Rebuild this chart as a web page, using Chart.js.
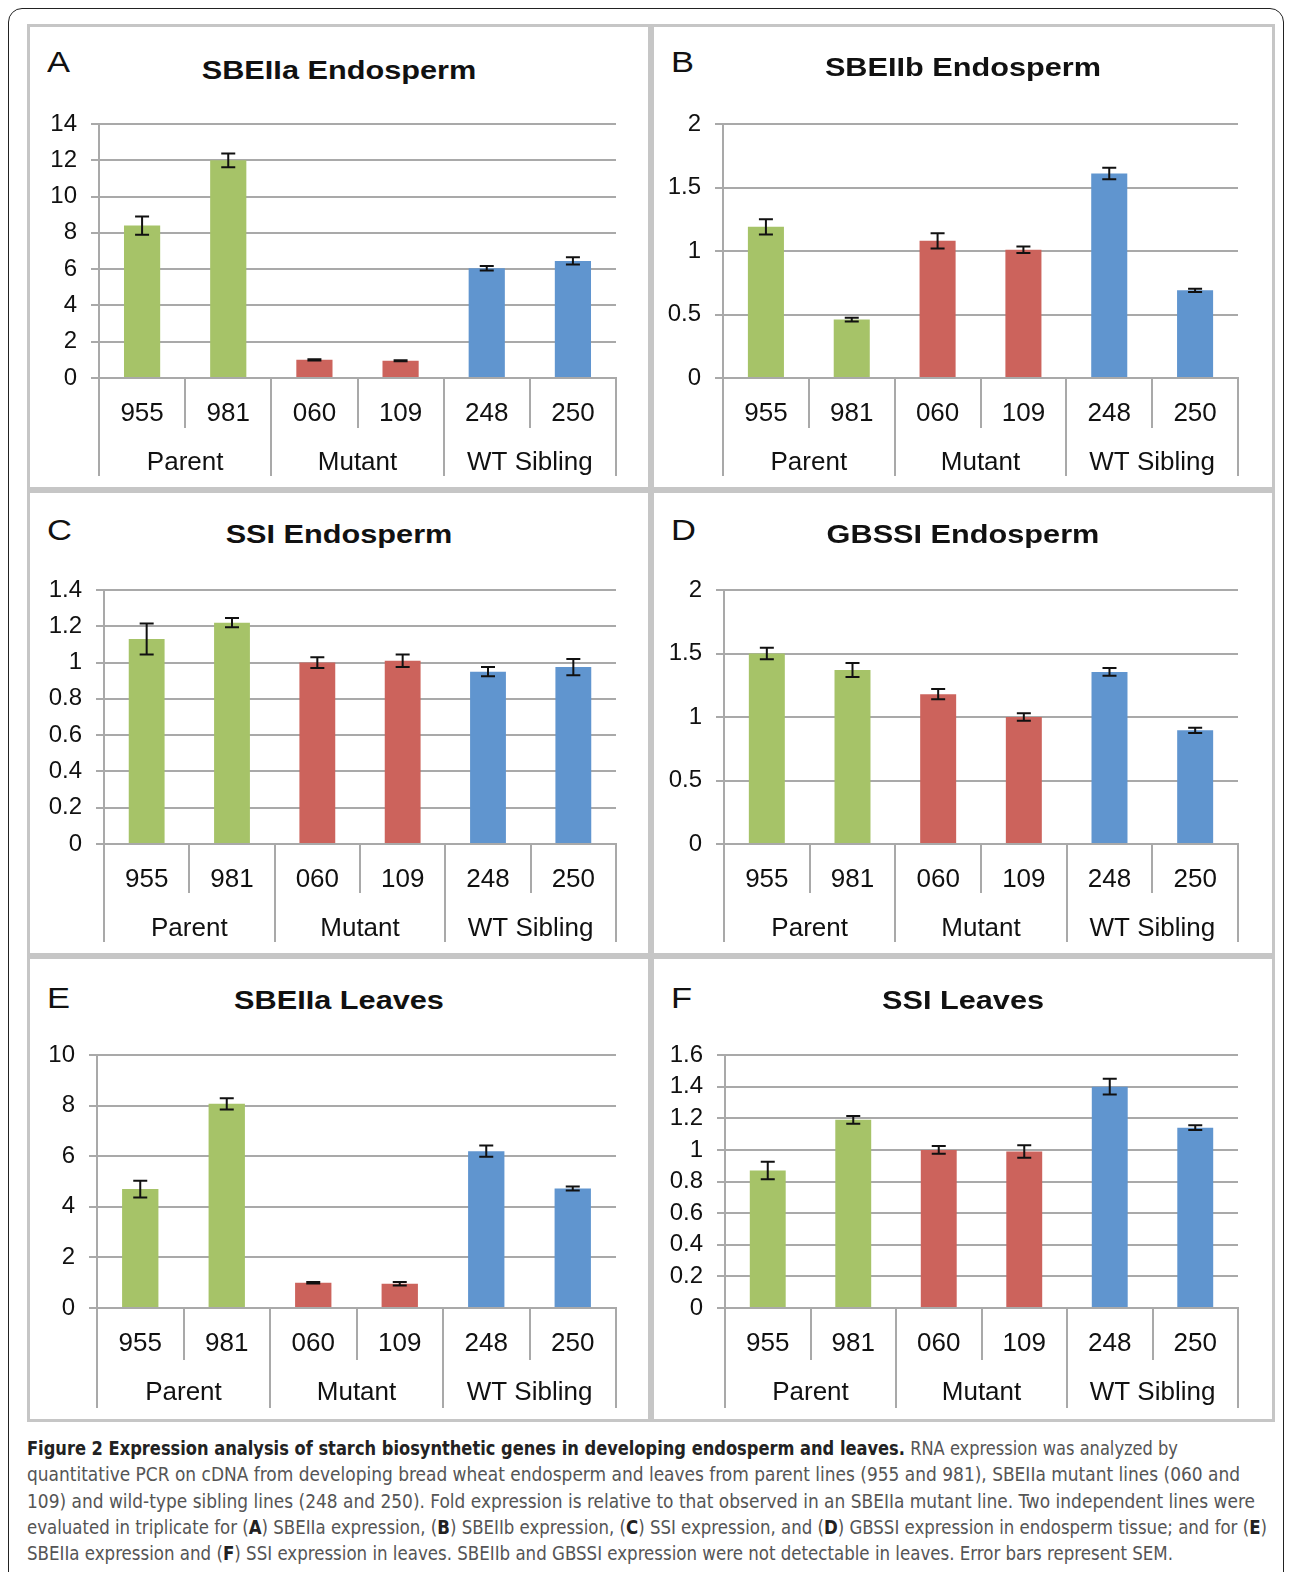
<!DOCTYPE html>
<html>
<head>
<meta charset="utf-8">
<script src="https://cdn.jsdelivr.net/npm/chart.js@4.4.1/dist/chart.umd.min.js"></script>
<style>
  body { margin: 0; background: #fff; width: 1290px; height: 1572px; overflow: hidden; position: relative;
         font-family: "Liberation Sans", Arial, sans-serif; }
  #frame { position: absolute; left: 8px; top: 8px; width: 1276px; height: 1640px;
           border: 1.5px solid #222; border-radius: 14px; box-sizing: border-box; }
  .panel { position: absolute; width: 624px; height: 466px; border: 3px solid #c6c6c6;
           box-sizing: border-box; background: #fff; }
  .panel canvas { position: absolute; left: 0; top: 0; }
  .letter { position: absolute; font-size: 30px; line-height: 34px; color: #111;
            transform: scaleX(1.15); transform-origin: left center; }
  .title { position: absolute; left: 0; right: 0; text-align: center; font-weight: bold;
           font-size: 26px; line-height: 30px; color: #111; transform: scaleX(1.18); }
  #caption { position: absolute; left: 27px; top: 1436px; }
  .cl { white-space: nowrap; height: 26.3px; line-height: 26.3px; font-size: 19.5px; color: #555;
        font-family: "Liberation Sans Narrow", "DejaVu Sans Condensed", "Liberation Sans", sans-serif;
        transform-origin: left center; }
  .cl b { color: #222; }
</style>
</head>
<body>
<div id="frame"></div>
<div class="panel" id="pA"></div>
<div class="panel" id="pB"></div>
<div class="panel" id="pC"></div>
<div class="panel" id="pD"></div>
<div class="panel" id="pE"></div>
<div class="panel" id="pF"></div>

<div id="caption">
  <div class="cl" data-w="1151"><b>Figure 2 Expression analysis of starch biosynthetic genes in developing endosperm and leaves.</b> RNA expression was analyzed by</div>
  <div class="cl" data-w="1213">quantitative PCR on cDNA from developing bread wheat endosperm and leaves from parent lines (955 and 981), SBEIIa mutant lines (060 and</div>
  <div class="cl" data-w="1228">109) and wild-type sibling lines (248 and 250). Fold expression is relative to that observed in an SBEIIa mutant line. Two independent lines were</div>
  <div class="cl" data-w="1240">evaluated in triplicate for (<b>A</b>) SBEIIa expression, (<b>B</b>) SBEIIb expression, (<b>C</b>) SSI expression, and (<b>D</b>) GBSSI expression in endosperm tissue; and for (<b>E</b>)</div>
  <div class="cl" data-w="1146">SBEIIa expression and (<b>F</b>) SSI expression in leaves. SBEIIb and GBSSI expression were not detectable in leaves. Error bars represent SEM.</div>
</div>

<script>
// categories
const samples = ["955", "981", "060", "109", "248", "250"];
const groups = ["Parent", "Mutant", "WT Sibling"];

// A - SBEIIa endosperm
const sbe2aEndoMean = [8.4, 12.0, 1.0, 0.95, 6.05, 6.45];
const sbe2aEndoErr  = [0.5, 0.38, 0.04, 0.03, 0.12, 0.2];
// B - SBEIIb endosperm
const sbe2bEndoMean = [1.19, 0.46, 1.08, 1.01, 1.61, 0.69];
const sbe2bEndoErr  = [0.06, 0.015, 0.06, 0.025, 0.045, 0.012];
// C - SSI endosperm
const ssiEndoMean = [1.13, 1.22, 1.0, 1.01, 0.95, 0.975];
const ssiEndoErr  = [0.085, 0.025, 0.03, 0.035, 0.025, 0.045];
// D - GBSSI endosperm
const gbssiEndoMean = [1.5, 1.37, 1.18, 1.0, 1.355, 0.895];
const gbssiEndoErr  = [0.045, 0.055, 0.04, 0.03, 0.03, 0.02];
// E - SBEIIa leaves
const sbe2aLeafMean = [4.7, 8.07, 1.0, 0.96, 6.2, 4.72];
const sbe2aLeafErr  = [0.33, 0.22, 0.03, 0.07, 0.22, 0.08];
// F - SSI leaves
const ssiLeafMean = [0.87, 1.19, 1.0, 0.99, 1.4, 1.14];
const ssiLeafErr  = [0.055, 0.025, 0.025, 0.04, 0.05, 0.015];

// y axis ranges
const yMax  = [14, 2, 1.4, 2, 10, 1.6];
const yStep = [2, 0.5, 0.2, 0.5, 2, 0.2];

const titles = ["SBEIIa Endosperm", "SBEIIb Endosperm", "SSI Endosperm",
                "GBSSI Endosperm", "SBEIIa Leaves", "SSI Leaves"];
const letters = ["A", "B", "C", "D", "E", "F"];

const barColors = ["#a6c368", "#a6c368", "#cc635c", "#cc635c", "#6095cf", "#6095cf"];
const GRAY = "#a9a9a9";
const FONT = "'Liberation Sans', Arial, sans-serif";

// panel layout (page pixels)
const panels = [
  { id: "pA", px: 27,  py: 24,  left: 99,  right: 616,  top: 124,  bottom: 378,  row1: 50, row2: 48, ly: 38, ty: 46, mean: sbe2aEndoMean, err: sbe2aEndoErr },
  { id: "pB", px: 651, py: 24,  left: 723, right: 1238, top: 124,  bottom: 378,  row1: 50, row2: 48, ly: 38, ty: 43, mean: sbe2bEndoMean, err: sbe2bEndoErr },
  { id: "pC", px: 27,  py: 490, left: 104, right: 616,  top: 590,  bottom: 844,  row1: 49, row2: 49, ly: 40, ty: 44, mean: ssiEndoMean,   err: ssiEndoErr },
  { id: "pD", px: 651, py: 490, left: 724, right: 1238, top: 590,  bottom: 844,  row1: 49, row2: 49, ly: 40, ty: 44, mean: gbssiEndoMean, err: gbssiEndoErr },
  { id: "pE", px: 27,  py: 956, left: 97,  right: 616,  top: 1055, bottom: 1308, row1: 52, row2: 48, ly: 42, ty: 44, mean: sbe2aLeafMean, err: sbe2aLeafErr },
  { id: "pF", px: 651, py: 956, left: 725, right: 1238, top: 1055, bottom: 1308, row1: 52, row2: 48, ly: 42, ty: 44, mean: ssiLeafMean,   err: ssiLeafErr }
];

const errorBars = {
  id: "errorBars",
  afterDatasetsDraw(chart) {
    const ctx = chart.ctx;
    const ys = chart.scales.y;
    const ds = chart.data.datasets[0];
    const meta = chart.getDatasetMeta(0);
    ctx.save();
    ctx.strokeStyle = "#111";
    ctx.lineWidth = 2;
    meta.data.forEach((bar, i) => {
      const v = ds.data[i], e = ds.err[i];
      const yt = ys.getPixelForValue(v + e);
      const yb = ys.getPixelForValue(v - e);
      const x = bar.x, cw = 7;
      ctx.beginPath();
      ctx.moveTo(x, yt); ctx.lineTo(x, yb);
      ctx.moveTo(x - cw, yt); ctx.lineTo(x + cw, yt);
      ctx.moveTo(x - cw, yb); ctx.lineTo(x + cw, yb);
      ctx.stroke();
    });
    ctx.restore();
  }
};

function makePanel(p, k) {
  const el = document.getElementById(p.id);
  el.style.left = p.px + "px";
  el.style.top = p.py + "px";

  const W = 618, H = 460;
  const innerL = p.px + 3, innerT = p.py + 3;

  const letter = document.createElement("div");
  letter.className = "letter";
  letter.textContent = letters[k];
  letter.style.left = "17px";
  letter.style.top = (p.ly - 3 - 17) + "px";
  el.appendChild(letter);

  const title = document.createElement("div");
  title.className = "title";
  title.textContent = titles[k];
  title.style.top = (p.ty - 3 - 15) + "px";
  el.appendChild(title);

  const canvas = document.createElement("canvas");
  canvas.width = W; canvas.height = H;
  canvas.style.width = W + "px"; canvas.style.height = H + "px";
  el.appendChild(canvas);

  const yW = p.left - innerL;
  const padR = innerL + W - p.right;
  const padT = p.top - innerT;
  const padB = innerT + H - (p.bottom + p.row1 + p.row2);
  const lh = 26 * 1.2;

  new Chart(canvas, {
    type: "bar",
    data: {
      labels: samples,
      datasets: [{
        data: p.mean,
        err: p.err,
        backgroundColor: barColors,
        barPercentage: 0.42,
        categoryPercentage: 1
      }]
    },
    options: {
      responsive: false,
      animation: false,
      devicePixelRatio: 1,
      layout: { padding: { left: 0, right: padR, top: padT, bottom: padB } },
      plugins: { legend: { display: false }, tooltip: { enabled: false } },
      scales: {
        x: {
          type: "category",
          position: "bottom",
          offset: true,
          weight: 1,
          grid: { offset: true, drawOnChartArea: false, tickLength: p.row1, color: GRAY, lineWidth: 2 },
          border: { display: true, color: GRAY, width: 2 },
          ticks: { font: { size: 26, family: FONT }, color: "#111", maxRotation: 0, autoSkip: false,
                   padding: 36 - p.row1 - lh / 2 },
          afterFit(a) { a.height = p.row1; }
        },
        x2: {
          type: "category",
          labels: groups,
          position: "bottom",
          offset: true,
          weight: 2,
          grid: { offset: true, drawOnChartArea: false, tickLength: p.row2, color: GRAY, lineWidth: 2 },
          border: { display: false },
          ticks: { font: { size: 26, family: FONT }, color: "#111", maxRotation: 0, autoSkip: false,
                   padding: 85 - p.row1 - p.row2 - lh / 2 },
          afterFit(a) { a.height = p.row2; }
        },
        y: {
          min: 0,
          max: yMax[k],
          grid: { color: GRAY, lineWidth: 2, tickLength: 8 },
          border: { display: true, color: GRAY, width: 2 },
          ticks: { stepSize: yStep[k], autoSkip: false, font: { size: 24, family: FONT }, color: "#111", padding: 14,
                   callback: (v) => String(Number(v.toFixed(2))) },
          afterFit(a) { a.width = yW; }
        }
      }
    },
    plugins: [errorBars]
  });
}

panels.forEach(makePanel);

// fit caption lines to the reference line widths
document.fonts.ready.then(() => {
  document.querySelectorAll(".cl").forEach((d) => {
    const target = +d.dataset.w;
    const r = document.createRange();
    r.selectNodeContents(d);
    const w = r.getBoundingClientRect().width;
    if (w > 0) d.style.transform = "scaleX(" + (target / w) + ")";
  });
});
</script>
</body>
</html>
